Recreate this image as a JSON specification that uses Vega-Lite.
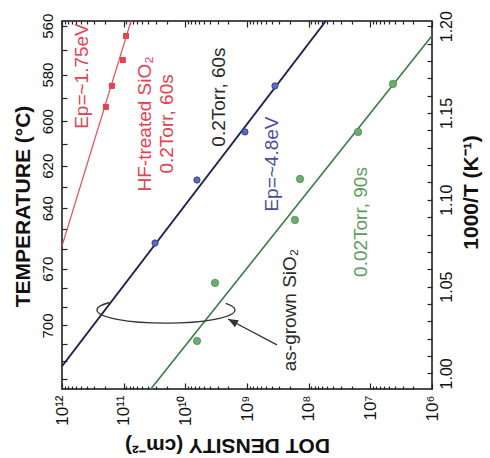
{
  "$schema": "https://vega.github.io/schema/vega-lite/v6.json",
  "width": 370,
  "height": 368,
  "autosize": {"type": "none"},
  "padding": {"left": 62, "top": 21, "right": 58, "bottom": 69},
  "background": "white",
  "config": {
    "view": {"stroke": "#111", "strokeWidth": 1.5},
    "font": "Liberation Sans",
    "axis": {"grid": false, "domain": false, "labelColor": "#111", "titleColor": "#111", "tickColor": "#222", "tickWidth": 1.2, "labelFont": "Liberation Sans", "titleFont": "Liberation Sans"}
  },
  "datasets": {
    "lines": [
      {"s": "hf", "D": 7.6e10, "v": 1.203},
      {"s": "hf", "D": 1e12, "v": 1.0734},
      {"s": "blue", "D": 5.27e7, "v": 1.203},
      {"s": "blue", "D": 1e12, "v": 1.0041},
      {"s": "green", "D": 1e6, "v": 1.1945},
      {"s": "green", "D": 3.63e10, "v": 0.991}
    ],
    "points": [
      {"s": "hf", "D": 9.17e10, "v": 1.1944},
      {"s": "hf", "D": 1.03e11, "v": 1.1805},
      {"s": "hf", "D": 1.55e11, "v": 1.1656},
      {"s": "hf", "D": 1.94e11, "v": 1.1535},
      {"s": "blue", "D": 3.52e8, "v": 1.1656},
      {"s": "blue", "D": 1.08e9, "v": 1.1391},
      {"s": "blue", "D": 6.47e9, "v": 1.1114},
      {"s": "blue", "D": 3.1e10, "v": 1.0751},
      {"s": "green", "D": 4.3e6, "v": 1.1667},
      {"s": "green", "D": 1.58e7, "v": 1.1391},
      {"s": "green", "D": 1.38e8, "v": 1.112},
      {"s": "green", "D": 1.67e8, "v": 1.0884},
      {"s": "green", "D": 3.3e9, "v": 1.0521},
      {"s": "green", "D": 6.47e9, "v": 1.0187}
    ],
    "texts": [
      {"g": "red", "D": 4.74e11, "v": 1.1713, "t": "Ep=~1.75eV"},
      {"g": "red", "D": 4.51e10, "v": 1.1437, "t": "HF-treated SiO₂"},
      {"g": "red", "D": 1.98e10, "v": 1.1437, "t": "0.2Torr, 60s"},
      {"g": "dark", "D": 2.85e9, "v": 1.1592, "t": "0.2Torr, 60s"},
      {"g": "blue", "D": 3.94e8, "v": 1.1206, "t": "Ep=~4.8eV"},
      {"g": "dark", "D": 2.01e8, "v": 1.0365, "t": "as-grown SiO₂"},
      {"g": "green", "D": 1.42e7, "v": 1.0872, "t": "0.02Torr, 90s"}
    ],
    "ellipse": [{"D": 2.06e10, "v": 1.0365}],
    "arrow": [{"D": 3.27e8, "v": 1.0164, "D2": 2.03e9, "v2": 1.0313}]
  },
  "resolve": {"axis": {"x": "independent", "y": "independent"}},
  "layer": [
    {
      "data": {"name": "lines"},
      "transform": [{"filter": "datum.s == 'hf'"}],
      "mark": {"type": "line", "color": "#e8505c", "strokeWidth": 1.2},
      "encoding": {
        "x": {"field": "D", "type": "quantitative", "scale": {"type": "log", "domain": [1e6, 1e12], "reverse": true, "nice": false},
          "axis": {"orient": "bottom", "values": [1e6, 1e7, 1e8, 1e9, 1e10, 1e11, 1e12], "ticks": false, "labelAngle": 270, "labelAlign": "right", "labelBaseline": "middle", "labelPadding": 6, "labelFontSize": 17,
            "labelExpr": "datum.value > 5e11 ? '10¹²' : datum.value > 5e10 ? '10¹¹' : datum.value > 5e9 ? '10¹⁰' : datum.value > 5e8 ? '10⁹' : datum.value > 5e7 ? '10⁸' : datum.value > 5e6 ? '10⁷' : '10⁶'",
            "title": "DOT DENSITY (cm⁻²)", "titleAngle": 180, "titleFontSize": 21, "titleFontWeight": "bold", "titleX": 165, "titleY": 55, "titleBaseline": "middle", "titleAlign": "center"}},
        "y": {"field": "v", "type": "quantitative", "scale": {"domain": [0.991, 1.203], "zero": false, "nice": false},
          "axis": {"orient": "right", "values": [1.0, 1.05, 1.1, 1.15, 1.2], "format": ".2f", "ticks": false, "labelAngle": 270, "labelAlign": "center", "labelBaseline": "top", "labelPadding": 6, "labelFontSize": 16,
            "title": "1000/T (K⁻¹)", "titleAngle": 270, "titleFontSize": 21, "titleFontWeight": "bold", "titleX": 39, "titleY": 171, "titleBaseline": "middle", "titleAlign": "center"}}
      }
    },
    {
      "data": {"name": "lines"},
      "transform": [{"filter": "datum.s == 'blue'"}],
      "mark": {"type": "line", "color": "#1e2352", "strokeWidth": 2},
      "encoding": {
        "x": {"field": "D", "type": "quantitative", "scale": {"type": "log", "domain": [1e6, 1e12], "reverse": true, "nice": false},
          "axis": {"orient": "bottom", "values": [1e6, 1e7, 1e8, 1e9, 1e10, 1e11, 1e12], "labels": false, "tickSize": -6, "title": null}},
        "y": {"field": "v", "type": "quantitative", "scale": {"domain": [0.991, 1.203], "zero": false, "nice": false},
          "axis": {"orient": "right", "values": [1.0, 1.01, 1.02, 1.03, 1.04, 1.05, 1.06, 1.07, 1.08, 1.09, 1.1, 1.11, 1.12, 1.13, 1.14, 1.15, 1.16, 1.17, 1.18, 1.19, 1.2], "labels": false, "tickSize": -5, "title": null}}
      }
    },
    {
      "data": {"name": "lines"},
      "transform": [{"filter": "datum.s == 'green'"}],
      "mark": {"type": "line", "color": "#3d7a48", "strokeWidth": 1.6},
      "encoding": {
        "x": {"field": "D", "type": "quantitative", "scale": {"type": "log", "domain": [1e6, 1e12], "reverse": true, "nice": false},
          "axis": {"orient": "bottom", "values": [2e6, 3e6, 4e6, 5e6, 6e6, 7e6, 8e6, 9e6, 2e7, 3e7, 4e7, 5e7, 6e7, 7e7, 8e7, 9e7, 2e8, 3e8, 4e8, 5e8, 6e8, 7e8, 8e8, 9e8, 2e9, 3e9, 4e9, 5e9, 6e9, 7e9, 8e9, 9e9, 2e10, 3e10, 4e10, 5e10, 6e10, 7e10, 8e10, 9e10, 2e11, 3e11, 4e11, 5e11, 6e11, 7e11, 8e11, 9e11], "labels": false, "tickSize": -3, "title": null}},
        "y": {"field": "v", "type": "quantitative", "scale": {"domain": [0.991, 1.203], "zero": false, "nice": false},
          "axis": {"orient": "left", "values": [1.20026, 1.17213, 1.14528, 1.11963, 1.09511, 1.06028, 1.02759], "labelExpr": "format(1000 / datum.value - 273.15, '.0f')", "ticks": false, "labelAngle": 270, "labelAlign": "center", "labelBaseline": "bottom", "labelPadding": 7, "labelFontSize": 15,
            "title": "TEMPERATURE (°C)", "titleAngle": 270, "titleFontSize": 21, "titleFontWeight": "bold", "titleX": -39, "titleY": 185, "titleBaseline": "middle", "titleAlign": "center"}}
      }
    },
    {
      "data": {"name": "points"},
      "transform": [{"filter": "datum.s == 'hf'"}],
      "mark": {"type": "point", "shape": "square", "filled": true, "color": "#e8404f", "size": 36, "opacity": 1},
      "encoding": {
        "x": {"field": "D", "type": "quantitative", "scale": {"type": "log", "domain": [1e6, 1e12], "reverse": true, "nice": false},
          "axis": {"orient": "top", "values": [1e6, 1e7, 1e8, 1e9, 1e10, 1e11, 1e12], "labels": false, "tickSize": -6, "title": null}},
        "y": {"field": "v", "type": "quantitative", "scale": {"domain": [0.991, 1.203], "zero": false, "nice": false},
          "axis": {"orient": "left", "values": [1.20026, 1.18603, 1.17213, 1.15855, 1.14528, 1.13231, 1.11963, 1.10724, 1.09511, 1.08325, 1.07164, 1.06028, 1.04915, 1.03826, 1.02759, 1.01714, 1.0069, 0.99686], "labels": false, "tickSize": -5, "title": null}}
      }
    },
    {
      "data": {"name": "points"},
      "transform": [{"filter": "datum.s == 'blue'"}],
      "mark": {"type": "point", "shape": "circle", "filled": true, "color": "#5a6cb8", "stroke": "#2c3680", "strokeWidth": 0.8, "size": 40, "opacity": 1},
      "encoding": {
        "x": {"field": "D", "type": "quantitative", "scale": {"type": "log", "domain": [1e6, 1e12], "reverse": true, "nice": false},
          "axis": {"orient": "top", "values": [2e6, 3e6, 4e6, 5e6, 6e6, 7e6, 8e6, 9e6, 2e7, 3e7, 4e7, 5e7, 6e7, 7e7, 8e7, 9e7, 2e8, 3e8, 4e8, 5e8, 6e8, 7e8, 8e8, 9e8, 2e9, 3e9, 4e9, 5e9, 6e9, 7e9, 8e9, 9e9, 2e10, 3e10, 4e10, 5e10, 6e10, 7e10, 8e10, 9e10, 2e11, 3e11, 4e11, 5e11, 6e11, 7e11, 8e11, 9e11], "labels": false, "tickSize": -3, "title": null}},
        "y": {"field": "v", "type": "quantitative", "scale": {"domain": [0.991, 1.203], "zero": false, "nice": false}, "axis": null}
      }
    },
    {
      "data": {"name": "points"},
      "transform": [{"filter": "datum.s == 'green'"}],
      "mark": {"type": "point", "shape": "circle", "filled": true, "color": "#6cae6c", "stroke": "#3d7a48", "strokeWidth": 0.6, "size": 55, "opacity": 1},
      "encoding": {
        "x": {"field": "D", "type": "quantitative", "scale": {"type": "log", "domain": [1e6, 1e12], "reverse": true, "nice": false}, "axis": null},
        "y": {"field": "v", "type": "quantitative", "scale": {"domain": [0.991, 1.203], "zero": false, "nice": false}, "axis": null}
      }
    },
    {
      "data": {"name": "texts"},
      "mark": {"type": "text", "angle": 270, "align": "center", "baseline": "middle", "fontSize": 19, "font": "Liberation Sans"},
      "encoding": {
        "x": {"field": "D", "type": "quantitative", "scale": {"type": "log", "domain": [1e6, 1e12], "reverse": true, "nice": false}, "axis": null},
        "y": {"field": "v", "type": "quantitative", "scale": {"domain": [0.991, 1.203], "zero": false, "nice": false}, "axis": null},
        "text": {"field": "t"},
        "color": {"field": "g", "type": "nominal", "scale": {"domain": ["red", "dark", "blue", "green"], "range": ["#e8404f", "#2a2a2a", "#4b4c9e", "#5e9c62"]}, "legend": null}
      }
    },
    {
      "data": {"name": "ellipse"},
      "mark": {"type": "point", "filled": false, "stroke": "#333", "strokeWidth": 1.3, "opacity": 1, "size": 19044,
        "shape": "M0.866,-0.095 C0.954,-0.066 1,-0.033 1,0 C1,0.105 0.552,0.19 0,0.19 C-0.552,0.19 -1,0.105 -1,0 C-1,-0.039 -0.937,-0.077 -0.819,-0.109"},
      "encoding": {
        "x": {"field": "D", "type": "quantitative", "scale": {"type": "log", "domain": [1e6, 1e12], "reverse": true, "nice": false}, "axis": null},
        "y": {"field": "v", "type": "quantitative", "scale": {"domain": [0.991, 1.203], "zero": false, "nice": false}, "axis": null}
      }
    },
    {
      "data": {"name": "arrow"},
      "mark": {"type": "rule", "color": "#333", "strokeWidth": 1.3},
      "encoding": {
        "x": {"field": "D", "type": "quantitative", "scale": {"type": "log", "domain": [1e6, 1e12], "reverse": true, "nice": false}, "axis": null},
        "y": {"field": "v", "type": "quantitative", "scale": {"domain": [0.991, 1.203], "zero": false, "nice": false}, "axis": null},
        "x2": {"field": "D2"},
        "y2": {"field": "v2"}
      }
    },
    {
      "data": {"name": "arrow"},
      "mark": {"type": "point", "filled": true, "color": "#333", "opacity": 1, "size": 400, "angle": 298, "shape": "M0,0 L0.4,1 L-0.4,1 Z"},
      "encoding": {
        "x": {"field": "D2", "type": "quantitative", "scale": {"type": "log", "domain": [1e6, 1e12], "reverse": true, "nice": false}, "axis": null},
        "y": {"field": "v2", "type": "quantitative", "scale": {"domain": [0.991, 1.203], "zero": false, "nice": false}, "axis": null}
      }
    }
  ]
}
